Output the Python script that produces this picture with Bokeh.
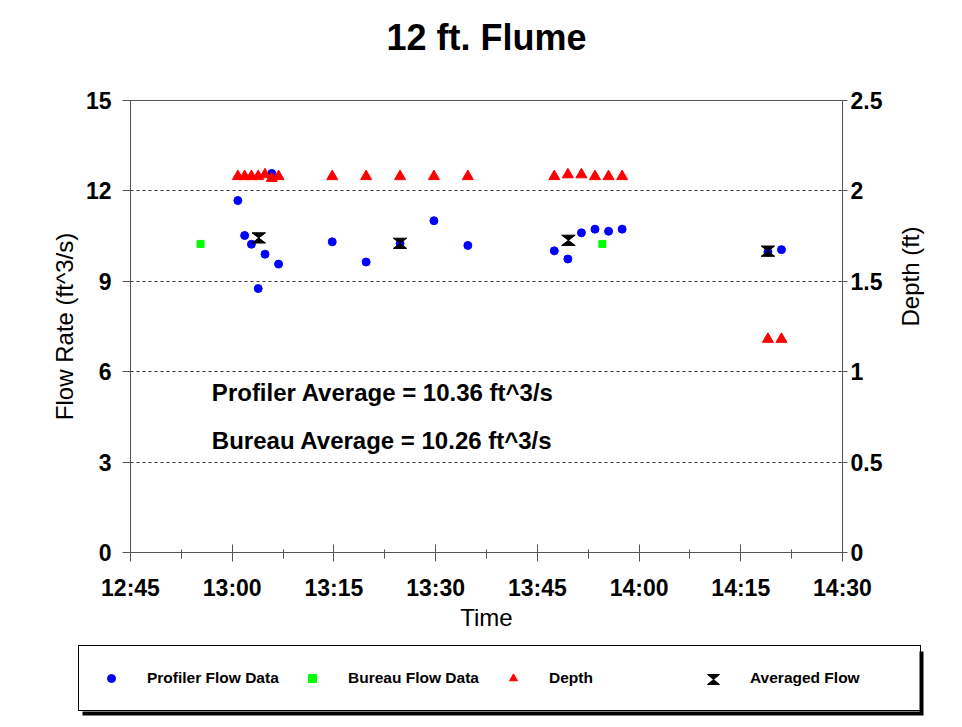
import math
import pandas as pd
from bokeh.plotting import figure
from bokeh.layouts import column
from bokeh.models import (Range1d, LinearAxis, FixedTicker, DatetimeTickFormatter,
                          CustomJSTickFormatter, Legend, LegendItem, Label, Title)
from bokeh.embed import file_html
from bokeh.resources import INLINE

# ---------------- data ----------------
DAY = "2000-01-01 "

profiler_times = ["13:00:50", "13:01:50", "13:02:50", "13:03:50", "13:04:50", "13:05:50", "13:06:50",
                  "13:14:45", "13:19:45", "13:24:45", "13:29:45", "13:34:45",
                  "13:47:30", "13:49:30", "13:51:30", "13:53:30", "13:55:30", "13:57:30",
                  "14:19:00", "14:21:00"]
profiler_flow = [11.68, 10.52, 10.23, 8.76, 9.90, 12.58, 9.57,
                 10.31, 9.64, 10.25, 11.01, 10.19,
                 10.01, 9.74, 10.61, 10.73, 10.66, 10.73,
                 9.97, 10.05]

depth_times = profiler_times
depth_ft = [2.08, 2.08, 2.08, 2.08, 2.09, 2.07, 2.08,
            2.08, 2.08, 2.08, 2.08, 2.08,
            2.08, 2.09, 2.09, 2.08, 2.08, 2.08,
            1.18, 1.18]

bureau_times = ["12:55:20", "13:54:35"]
bureau_flow = [10.24, 10.24]

avg_times = ["13:03:55", "13:24:45", "13:49:35", "14:19:00"]
avg_flow = [10.44, 10.26, 10.36, 10.00]

profiler_average = 10.36
bureau_average = 10.26

x_tick_labels = ["12:45", "13:00", "13:15", "13:30", "13:45", "14:00", "14:15", "14:30"]
flow_ticks = [0, 3, 6, 9, 12, 15]
depth_ticks = [0, 0.5, 1, 1.5, 2, 2.5]

legend_labels = ["Profiler Flow Data", "Bureau Flow Data", "Depth", "Averaged Flow"]
chart_title = "12 ft. Flume"

# ---------------- helpers ----------------
def ts(t):
    return pd.Timestamp(DAY + t)

def ms(t):
    return ts(t).value / 1e6

FONT = "Liberation Sans"
AX = "#555555"
BLUE, GREEN, RED = "#0000ff", "#00ff00", "#ff0000"

x_major = [ms(t) for t in x_tick_labels]
x_minor = [(a + b) / 2 for a, b in zip(x_major[:-1], x_major[1:])]

W = 946
p = figure(width=W, height=640, x_axis_type="datetime",
           x_range=Range1d(x_major[0], x_major[-1]), y_range=Range1d(flow_ticks[0], flow_ticks[-1]),
           output_backend="svg", toolbar_location=None,
           min_border_left=130, min_border_right=W - 842, min_border_top=100, min_border_bottom=88)
p.frame_align = False
p.background_fill_color = "white"
p.border_fill_color = "white"
p.outline_line_color = AX

# spacer nearest the frame, then the real title above it
p.add_layout(Title(text=" ", text_font_size="2px", standoff=34), "above")
p.add_layout(Title(text=chart_title, align="center", vertical_align="bottom",
                   text_font=FONT, text_font_size="36px", text_font_style="bold",
                   text_color="black", standoff=10), "above")

# x axis
xa = p.xaxis[0]
xa.ticker = FixedTicker(ticks=x_major, minor_ticks=x_minor)
xa.formatter = DatetimeTickFormatter(minsec="%H:%M", minutes="%H:%M", hourmin="%H:%M", hours="%H:%M")
xa.axis_label = "Time"
xa.axis_label_text_font = FONT
xa.axis_label_text_font_size = "24px"
xa.axis_label_text_font_style = "normal"
xa.axis_label_text_color = "black"
xa.axis_label_standoff = 0
xa.major_label_text_font = FONT
xa.major_label_text_font_size = "23px"
xa.major_label_text_font_style = "bold"
xa.major_label_text_color = "black"
xa.major_label_standoff = 13
xa.axis_line_color = AX
xa.major_tick_line_color = AX
xa.minor_tick_line_color = AX
xa.major_tick_in = 8
xa.major_tick_out = 9
xa.minor_tick_in = 3
xa.minor_tick_out = 6

# left axis
ya = p.yaxis[0]
ya.ticker = FixedTicker(ticks=flow_ticks)
ya.axis_label = "Flow Rate (ft^3/s)"
ya.axis_label_text_font = FONT
ya.axis_label_text_font_size = "24px"
ya.axis_label_text_font_style = "normal"
ya.axis_label_text_color = "black"
ya.axis_label_standoff = 5
ya.major_label_text_font = FONT
ya.major_label_text_font_size = "23px"
ya.major_label_text_font_style = "bold"
ya.major_label_text_color = "black"
ya.major_label_standoff = 11
ya.axis_line_color = AX
ya.major_tick_line_color = AX
ya.minor_tick_line_color = None
ya.major_tick_in = 0
ya.major_tick_out = 8

p.xgrid.visible = False
p.ygrid.ticker = FixedTicker(ticks=flow_ticks)
p.ygrid.grid_line_color = "#333333"
p.ygrid.grid_line_dash = "3 3"
p.ygrid.grid_line_width = 1

# right axis
p.extra_y_ranges = {"depth": Range1d(depth_ticks[0], depth_ticks[-1])}
ra = LinearAxis(y_range_name="depth", ticker=FixedTicker(ticks=depth_ticks),
                formatter=CustomJSTickFormatter(code="return String(tick)"))
ra.axis_label = "Depth (ft)"
ra.axis_label_orientation = math.pi / 2
ra.axis_label_text_font = FONT
ra.axis_label_text_font_size = "24px"
ra.axis_label_text_font_style = "normal"
ra.axis_label_text_color = "black"
ra.axis_label_standoff = 25
ra.major_label_text_font = FONT
ra.major_label_text_font_size = "23px"
ra.major_label_text_font_style = "bold"
ra.major_label_text_color = "black"
ra.major_label_standoff = 3
ra.axis_line_color = AX
ra.major_tick_line_color = AX
ra.minor_tick_line_color = None
ra.major_tick_in = 0
ra.major_tick_out = 5
p.add_layout(ra, "right")

# ---------------- glyphs ----------------
p.scatter([ts(t) for t in profiler_times], profiler_flow, marker="circle", size=8,
          fill_color=BLUE, line_color=BLUE)
p.scatter([ts(t) for t in bureau_times], bureau_flow, marker="square", size=7,
          fill_color=GREEN, line_color=GREEN)
p.scatter([ts(t) for t in depth_times], depth_ft, marker="triangle", size=11,
          fill_color=RED, line_color=RED, y_range_name="depth")

# averaged flow as hourglass markers (half width 1 min, half height 0.17 ft^3/s)
HW = 60 * 1000.0
HH = 0.17
hx, hy = [], []
for t, v in zip(avg_times, avg_flow):
    c = ms(t)
    hx.append([c - HW, c + HW, c, c + HW, c - HW, c])
    hy.append([v + HH, v + HH, v, v - HH, v - HH, v])
p.patches(hx, hy, fill_color="black", line_color="black", line_width=1)

# annotation texts
label_x = ms("12:57:00")
p.add_layout(Label(x=label_x, y=5.3, text=f"Profiler Average = {profiler_average:.2f} ft^3/s",
                   text_font=FONT, text_font_size="24px", text_font_style="bold",
                   text_color="black", text_baseline="middle"))
p.add_layout(Label(x=label_x, y=3.72, text=f"Bureau Average = {bureau_average:.2f} ft^3/s",
                   text_font=FONT, text_font_size="24px", text_font_style="bold",
                   text_color="black", text_baseline="middle"))

# ---------------- legend (own strip below the chart; its data space = pixels) ----------------
LH = 79
lf = figure(width=W, height=LH, x_range=Range1d(0, W), y_range=Range1d(LH, 0),
            output_backend="svg", toolbar_location=None,
            x_axis_location=None, y_axis_location=None, min_border=0)
lf.frame_align = False
lf.grid.visible = False
lf.outline_line_color = None
lf.background_fill_color = "white"
lf.border_fill_color = "white"

PAD, GW, GH, LS, LW, SP = 22, 20, 20, 26, 148, 7
n = len(legend_labels)
leg_w = 2 * PAD + n * (GW + LS + LW) + (n - 1) * SP
leg_h = 2 * PAD + GH
leg_left, leg_top = 78, 7
leg_bottom = leg_top + leg_h

# shadow and white box drawn as glyphs, so the hourglass can sit on top of them
lf.quad(left=[leg_left + 4], right=[leg_left + leg_w + 4], top=[leg_top + 4], bottom=[leg_bottom + 4],
        fill_color="black", line_color=None)
lf.quad(left=[leg_left], right=[leg_left + leg_w], top=[leg_top], bottom=[leg_bottom],
        fill_color="white", line_color=None)

# hourglass symbol for the "Averaged Flow" entry
cx = leg_left + PAD + (n - 1) * (GW + LS + LW + SP) + GW / 2
cy = leg_top + leg_h / 2
lf.patch([cx - 6, cx + 6, cx, cx + 6, cx - 6, cx],
         [cy - 5, cy - 5, cy, cy + 5, cy + 5, cy],
         fill_color="black", line_color="black")

# legend proxies: one point each, placed outside the visible strip
OFF = [-100]
d_prof = lf.scatter(OFF, OFF, marker="circle", fill_color=BLUE, line_color=BLUE)
d_bur = lf.scatter(OFF, OFF, marker="square", fill_color=GREEN, line_color=GREEN)
d_dep = lf.scatter(OFF, OFF, marker="triangle", fill_color=RED, line_color=RED)
d_avg = lf.scatter(OFF, OFF, marker="circle", fill_alpha=0, line_alpha=0)

legend = Legend(items=[LegendItem(label=legend_labels[0], renderers=[d_prof]),
                       LegendItem(label=legend_labels[1], renderers=[d_bur]),
                       LegendItem(label=legend_labels[2], renderers=[d_dep]),
                       LegendItem(label=legend_labels[3], renderers=[d_avg])],
                orientation="horizontal", location=(leg_left, LH - leg_bottom), margin=0,
                glyph_width=GW, glyph_height=GH, label_standoff=LS, label_width=LW,
                spacing=SP, padding=PAD,
                border_line_color="black", border_line_width=1, border_line_alpha=1,
                background_fill_alpha=0,
                label_text_font=FONT, label_text_font_style="bold",
                label_text_font_size="15.5px", label_text_color="black")
lf.add_layout(legend, "center")

layout = column(p, lf, spacing=0)
open("out.html", "w").write(file_html(layout, INLINE))
